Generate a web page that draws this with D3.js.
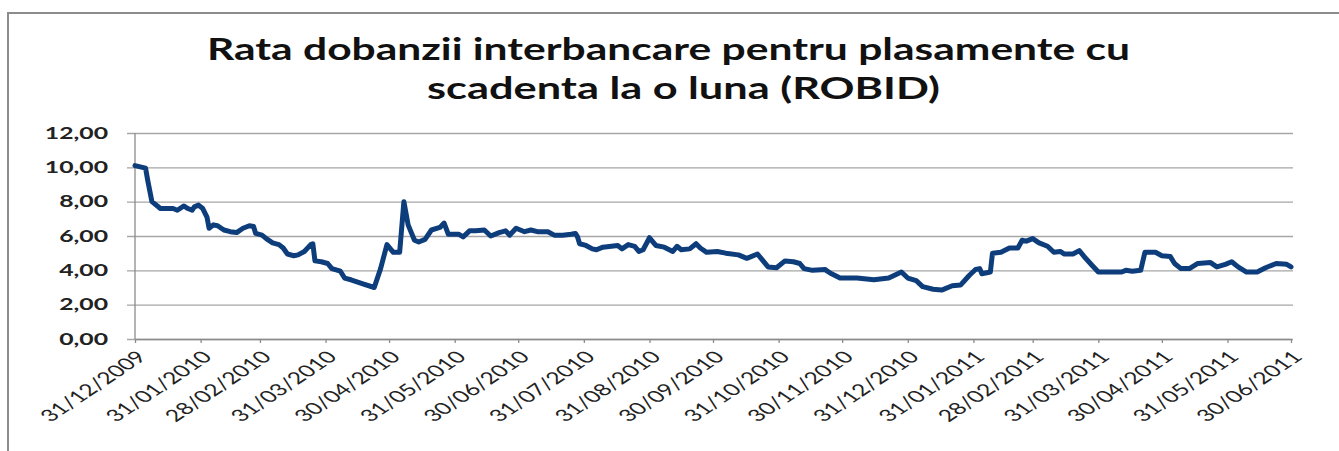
<!DOCTYPE html>
<html>
<head>
<meta charset="utf-8">
<script src="https://cdn.jsdelivr.net/npm/d3@7"></script>
<style>
  body { margin: 0; background: #fff; }
  text { font-family: Lato, "Open Sans", sans-serif; }
</style>
</head>
<body>
<svg id="chart"></svg>
<script>
// ROBID 1M
const dates = [
  "2009-12-31","2010-01-05","2010-01-06","2010-01-08","2010-01-12","2010-01-18","2010-01-20","2010-01-23",
  "2010-01-25","2010-01-27","2010-01-28","2010-01-30","2010-02-01","2010-02-03","2010-02-04","2010-02-06",
  "2010-02-08","2010-02-11","2010-02-14","2010-02-17","2010-02-20","2010-02-23","2010-02-25","2010-02-26",
  "2010-03-01","2010-03-03","2010-03-06","2010-03-09","2010-03-11","2010-03-13","2010-03-16","2010-03-18",
  "2010-03-21","2010-03-24","2010-03-25","2010-03-26","2010-03-29","2010-04-01","2010-04-03","2010-04-07",
  "2010-04-09","2010-04-12","2010-04-18","2010-04-23","2010-04-26","2010-04-29","2010-05-02","2010-05-05",
  "2010-05-07","2010-05-09","2010-05-12","2010-05-14","2010-05-17","2010-05-20","2010-05-24","2010-05-26",
  "2010-05-28","2010-06-02","2010-06-04","2010-06-07","2010-06-10","2010-06-14","2010-06-17","2010-06-21",
  "2010-06-24","2010-06-26","2010-06-29","2010-07-03","2010-07-06","2010-07-09","2010-07-14","2010-07-17",
  "2010-07-21","2010-07-25","2010-07-27","2010-07-28","2010-07-29","2010-08-01","2010-08-04","2010-08-06",
  "2010-08-09","2010-08-16","2010-08-18","2010-08-21","2010-08-24","2010-08-26","2010-08-28","2010-08-31",
  "2010-09-01","2010-09-03","2010-09-07","2010-09-11","2010-09-13","2010-09-15","2010-09-19","2010-09-22",
  "2010-09-24","2010-09-27","2010-10-02","2010-10-06","2010-10-12","2010-10-16","2010-10-21","2010-10-23",
  "2010-10-26","2010-10-30","2010-11-03","2010-11-07","2010-11-10","2010-11-12","2010-11-16","2010-11-22",
  "2010-11-23","2010-11-25","2010-11-29","2010-12-07","2010-12-15","2010-12-22","2010-12-28","2010-12-31",
  "2011-01-04","2011-01-07","2011-01-12","2011-01-16","2011-01-21","2011-01-25","2011-01-29","2011-02-01",
  "2011-02-03","2011-02-04","2011-02-08","2011-02-09","2011-02-13","2011-02-17","2011-02-21","2011-02-23",
  "2011-02-25","2011-02-28","2011-03-03","2011-03-07","2011-03-10","2011-03-13","2011-03-15","2011-03-19",
  "2011-03-22","2011-03-25","2011-03-28","2011-03-31","2011-04-05","2011-04-11","2011-04-13","2011-04-16",
  "2011-04-20","2011-04-22","2011-04-27","2011-04-30","2011-05-04","2011-05-06","2011-05-09","2011-05-13",
  "2011-05-17","2011-05-23","2011-05-26","2011-05-30","2011-06-02","2011-06-05","2011-06-09","2011-06-14",
  "2011-06-18","2011-06-23","2011-06-28","2011-06-30"
];
const robid = [
  10.10, 9.95, 9.25, 8.00, 7.60, 7.60, 7.50, 7.75,
  7.60, 7.50, 7.70, 7.80, 7.60, 7.10, 6.45, 6.65,
  6.60, 6.35, 6.25, 6.20, 6.45, 6.60, 6.55, 6.15,
  6.05, 5.85, 5.60, 5.50, 5.30, 4.95, 4.85, 4.90,
  5.10, 5.50, 5.55, 4.55, 4.50, 4.40, 4.10, 3.95,
  3.55, 3.45, 3.20, 3.00, 4.10, 5.50, 5.05, 5.05,
  8.00, 6.65, 5.75, 5.65, 5.80, 6.35, 6.50, 6.75,
  6.10, 6.10, 5.95, 6.30, 6.30, 6.35, 6.00, 6.20,
  6.30, 6.05, 6.45, 6.25, 6.35, 6.25, 6.25, 6.05,
  6.05, 6.10, 6.15, 5.95, 5.55, 5.45, 5.25, 5.20,
  5.35, 5.45, 5.25, 5.50, 5.40, 5.10, 5.20, 5.90,
  5.75, 5.45, 5.35, 5.10, 5.40, 5.20, 5.25, 5.55,
  5.30, 5.05, 5.10, 5.00, 4.90, 4.70, 4.95, 4.65,
  4.20, 4.15, 4.55, 4.50, 4.40, 4.10, 4.00, 4.05,
  3.95, 3.80, 3.55, 3.55, 3.45, 3.55, 3.90, 3.55,
  3.40, 3.05, 2.90, 2.85, 3.10, 3.15, 3.70, 4.05,
  4.10, 3.80, 3.90, 5.00, 5.05, 5.30, 5.30, 5.75,
  5.70, 5.85, 5.60, 5.40, 5.05, 5.10, 4.95, 4.95,
  5.15, 4.70, 4.30, 3.90, 3.90, 3.90, 4.00, 3.95,
  4.00, 5.05, 5.05, 4.85, 4.80, 4.40, 4.10, 4.10,
  4.40, 4.45, 4.20, 4.35, 4.50, 4.20, 3.90, 3.90,
  4.15, 4.40, 4.35, 4.20
];
const tickDates = [
  "2009-12-31","2010-01-31","2010-02-28","2010-03-31","2010-04-30","2010-05-31","2010-06-30",
  "2010-07-31","2010-08-31","2010-09-30","2010-10-31","2010-11-30","2010-12-31","2011-01-31",
  "2011-02-28","2011-03-31","2011-04-30","2011-05-31","2011-06-30"
];
const yTicks = [0, 2, 4, 6, 8, 10, 12];
const titleLines = ["Rata dobanzii interbancare pentru plasamente cu", "scadenta la o luna (ROBID)"];

const width = 1339, height = 451;
const sx = 1.5; // the original picture is stretched sideways, text too

const parse = d3.timeParse("%Y-%m-%d");
const data = dates.map((d, i) => ({ date: parse(d), v: robid[i] }));

const svg = d3.select("#chart").attr("width", width).attr("height", height);

// chart frame
svg.append("rect")
  .attr("x", 8).attr("y", 13)
  .attr("width", 1345).attr("height", 460)
  .attr("fill", "#fff")
  .attr("stroke", "#8c8c8c")
  .attr("stroke-width", 2);

const x = d3.scaleTime()
  .domain([parse("2009-12-31"), parse("2011-06-30")])
  .range([135, 1291]);
const y = d3.scaleLinear().domain([0, 12]).range([339, 133]);

// y axis with gridlines
const yAxis = svg.append("g")
  .attr("transform", "translate(127,0)")
  .call(d3.axisLeft(y)
    .tickValues(yTicks)
    .tickSize(-(1293 - 127))
    .tickPadding(0)
    .tickFormat(d => d3.format(".2f")(d).replace(".", ",")));
yAxis.select(".domain").remove();
yAxis.selectAll(".tick line").attr("stroke", "#a6a6a6").attr("stroke-width", 1.3);
yAxis.selectAll(".tick text")
  .attr("x", 0)
  .attr("transform", `translate(-19,0) scale(${sx},1)`)
  .attr("font-size", 16.5)
  .attr("font-weight", "bold")
  .attr("fill", "#222");

svg.append("line")
  .attr("x1", 135).attr("x2", 135)
  .attr("y1", 133).attr("y2", 339)
  .attr("stroke", "#8c8c8c").attr("stroke-width", 1.3);

// x axis
const xAxis = svg.append("g")
  .attr("transform", "translate(0,339)")
  .call(d3.axisBottom(x)
    .tickValues(tickDates.map(parse))
    .tickSize(4)
    .tickSizeOuter(0)
    .tickFormat(d3.timeFormat("%d/%m/%Y")));
xAxis.select(".domain").attr("stroke", "#8c8c8c").attr("stroke-width", 1.3);
xAxis.selectAll(".tick line").attr("stroke", "#8c8c8c").attr("stroke-width", 1.3);
xAxis.selectAll(".tick text")
  .attr("y", 0)
  .attr("dy", "0.35em")
  .attr("text-anchor", "end")
  .attr("transform", `translate(6,15) scale(${sx},1) rotate(-45)`)
  .attr("font-size", 16.5)
  .attr("fill", "#222");

// the series
const line = d3.line()
  .x(d => x(d.date))
  .y(d => y(d.v));

svg.append("path")
  .datum(data)
  .attr("d", line)
  .attr("fill", "none")
  .attr("stroke", "#0e3d7c")
  .attr("stroke-width", 5)
  .attr("stroke-linejoin", "round")
  .attr("stroke-linecap", "round");

// title
const titleWidths = [923, 513];
const titleX = [207, 427];
svg.selectAll(".title")
  .data(titleLines)
  .enter()
  .append("text")
  .attr("class", "title")
  .attr("x", (d, i) => titleX[i])
  .attr("y", (d, i) => 60 + i * 39)
  .attr("textLength", (d, i) => titleWidths[i])
  .attr("lengthAdjust", "spacingAndGlyphs")
  .attr("font-size", 30)
  .attr("font-weight", "bold")
  .attr("fill", "#111")
  .text(d => d);
</script>
</body>
</html>
